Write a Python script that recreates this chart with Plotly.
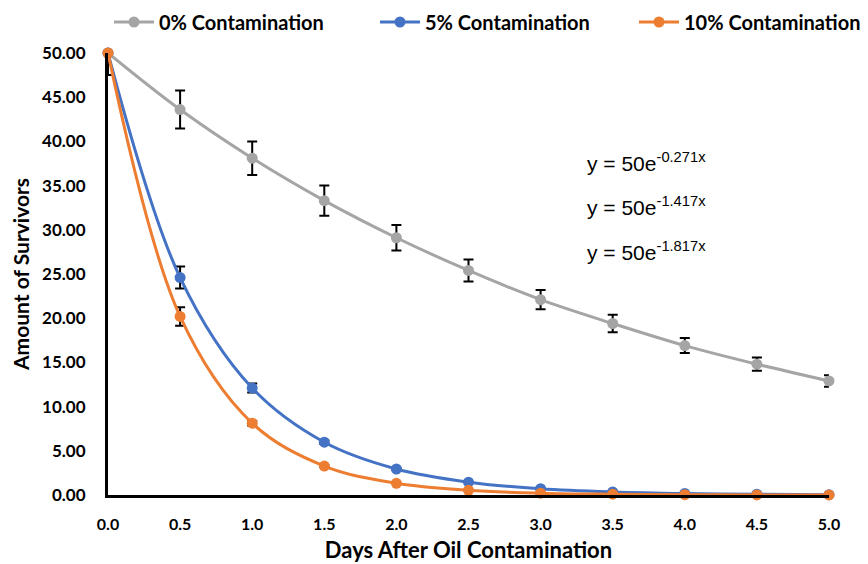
import plotly.graph_objects as go

days = [0.0, 0.5, 1.0, 1.5, 2.0, 2.5, 3.0, 3.5, 4.0, 4.5, 5.0]
tick_labels = ["0.0", "0.5", "1.0", "1.5", "2.0", "2.5", "3.0", "3.5", "4.0", "4.5", "5.0"]

names = ["0% Contamination", "5% Contamination", "10% Contamination"]
surv_0 = [50.0, 43.6, 38.1, 33.3, 29.1, 25.4, 22.1, 19.4, 16.9, 14.8, 12.9]
surv_5 = [50.0, 24.6, 12.1, 5.97, 2.94, 1.45, 0.71, 0.35, 0.17, 0.09, 0.04]
surv_10 = [50.0, 20.2, 8.12, 3.27, 1.32, 0.53, 0.21, 0.09, 0.04, 0.01, 0.01]
err_0 = [2.5, 2.15, 1.9, 1.7, 1.45, 1.25, 1.1, 1.0, 0.85, 0.75, 0.65]
err_5 = [0.0, 1.25, 0.5, 0.2, 0.1, 0.0, 0.0, 0.0, 0.0, 0.0, 0.0]
err_10 = [0.0, 1.05, 0.25, 0.1, 0.0, 0.0, 0.0, 0.0, 0.0, 0.0, 0.0]
equations = ["y = 50e<sup>-0.271x</sup>", "y = 50e<sup>-1.417x</sup>", "y = 50e<sup>-1.817x</sup>"]
eq_y = [37.7, 32.7, 27.6]
y_ticks = [0, 5, 10, 15, 20, 25, 30, 35, 40, 45, 50]

colors = ["#A5A5A5", "#4472C4", "#ED7D31"]
legend_ids = ["legend", "legend2", "legend3"]
FONT = "Lato"
W, H = 860, 556

fig = go.Figure()
for name, ys, errs, col, lg in zip(names, [surv_0, surv_5, surv_10], [err_0, err_5, err_10], colors, legend_ids):
    fig.add_trace(go.Scatter(
        x=days, y=ys, name=name, mode="lines+markers", legend=lg,
        line=dict(color=col, width=3, shape="spline", smoothing=1.0),
        marker=dict(color=col, size=11),
        error_y=dict(type="data", array=errs, visible=True, color="black", thickness=2, width=5),
        cliponaxis=False,
    ))

for eq, yy in zip(equations, eq_y):
    fig.add_annotation(x=3.31, y=yy, xref="x", yref="y", text=eq, showarrow=False,
                       xanchor="left", yanchor="middle",
                       font=dict(family="Liberation Sans", size=21, color="black"))

def legend_at(px):
    return dict(orientation="h", x=px / W, xanchor="left", y=1 - 14 / H, yanchor="middle",
                xref="container", yref="container", itemwidth=40,
                font=dict(family=FONT, size=20, color="black", weight="bold"),
                bgcolor="rgba(0,0,0,0)")

fig.update_layout(
    width=W, height=H,
    margin=dict(l=100, r=39, t=45, b=69, autoexpand=False),
    plot_bgcolor="white", paper_bgcolor="white",
    font=dict(family=FONT, color="black"),
    showlegend=True,
    legend=legend_at(101), legend2=legend_at(367), legend3=legend_at(626),
)

fig.update_xaxes(range=[0, 5], tickvals=days, ticktext=tick_labels, automargin=False,
                 showline=True, linecolor="black", linewidth=3, showgrid=False, zeroline=False,
                 ticks="", ticklabelstandoff=13,
                 tickfont=dict(family=FONT, size=16, color="black", weight="bold"),
                 title=dict(text="Days After Oil Contamination", standoff=11,
                            font=dict(family=FONT, size=22, color="black", weight="bold")))
fig.update_yaxes(range=[0, 50], tickvals=y_ticks, automargin=False,
                 ticktext=[f"{v:.2f}" for v in y_ticks],
                 showline=True, linecolor="black", linewidth=3, showgrid=False, zeroline=False,
                 ticks="", ticklabelstandoff=16,
                 tickfont=dict(family=FONT, size=17, color="black", weight="bold"),
                 title=dict(text="Amount of Survivors", standoff=19,
                            font=dict(family=FONT, size=21, color="black", weight="bold")))

fig.write_html("out.html")
